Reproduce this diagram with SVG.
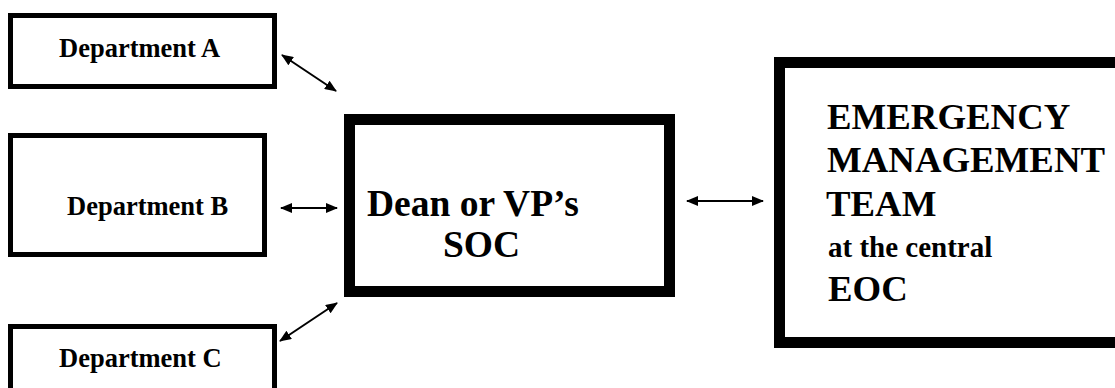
<svg xmlns="http://www.w3.org/2000/svg" width="1115" height="388" viewBox="0 0 1115 388">
  <style>
    .box { fill: #ffffff; stroke: #000000; }
    .thin { stroke-width: 5; }
    .thick { stroke-width: 11; }
    .t { font-family: 'Liberation Serif', 'Times New Roman', Times, 'DejaVu Serif', serif; font-weight: bold; fill: #000000; }
    .dept { font-size: 26.5px; }
    .big { font-size: 37.5px; }
    .team { font-size: 36.8px; }
    .small { font-size: 29px; }
    .link { stroke: #000000; stroke-width: 2; fill: none; marker-start: url(#head); marker-end: url(#head); }
  </style>
  <defs>
    <marker id="head" viewBox="0 0 12 10" refX="11" refY="5" markerWidth="12" markerHeight="10" markerUnits="userSpaceOnUse" orient="auto-start-reverse">
      <path d="M0,0 L12,5 L0,10 Z" fill="#000000"/>
    </marker>
  </defs>
  <rect width="1115" height="388" fill="#ffffff"/>

  <g id="connectors">
    <line class="link" x1="282" y1="55" x2="336" y2="91"/>
    <line class="link" x1="281" y1="208" x2="337" y2="208"/>
    <line class="link" x1="280" y1="341" x2="337" y2="303"/>
    <line class="link" x1="687" y1="201" x2="763" y2="201"/>
  </g>

  <g id="dept-a">
    <rect class="box thin" x="10.5" y="15.5" width="264" height="71"/>
    <text class="t dept" x="59" y="57">Department A</text>
  </g>

  <g id="dept-b">
    <rect class="box thin" x="10.5" y="135.5" width="254" height="119"/>
    <text class="t dept" x="67" y="215">Department B</text>
  </g>

  <g id="dept-c">
    <rect class="box thin" x="10.5" y="326.5" width="264" height="100"/>
    <text class="t dept" x="59" y="367">Department C</text>
  </g>

  <g id="soc">
    <rect class="box thick" x="349.5" y="119.5" width="320" height="172"/>
    <text class="t big" x="367" y="216">Dean or VP’s</text>
    <text class="t big" x="443" y="257">SOC</text>
  </g>

  <g id="emt">
    <rect class="box thick" x="779.5" y="62.5" width="400" height="280"/>
    <text class="t team" x="827" y="129">EMERGENCY</text>
    <text class="t team" x="827" y="172">MANAGEMENT</text>
    <text class="t team" x="826" y="216">TEAM</text>
    <text class="t small" x="828" y="257">at the central</text>
    <text class="t team" x="828" y="301">EOC</text>
  </g>
</svg>
